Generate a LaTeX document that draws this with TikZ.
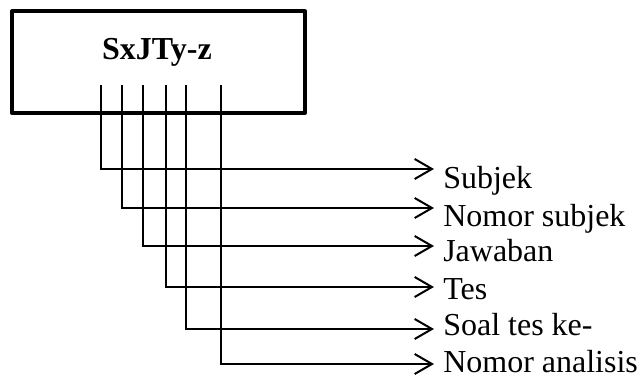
\documentclass[tikz,border=0pt]{standalone}
\usepackage{fontspec}
\setmainfont{Liberation Serif}
\usetikzlibrary{arrows.meta}
\begin{document}
\begin{tikzpicture}[x=0.75pt,y=-0.75pt,
  frame/.style={draw,line width=3pt,line join=round},
  wire/.style={line width=1.5pt,line join=miter},
  arr/.style={wire,-{Straight Barb[length=13pt,width=15pt,line width=1.5pt]}},
  lbl/.style={anchor=base west,inner sep=0pt,font=\fontsize{24}{28}\selectfont},
  ttl/.style={anchor=base,inner sep=0pt,font=\fontsize{24}{28}\selectfont\bfseries}]
\useasboundingbox (0,0) rectangle (640,378);
\draw[frame] (12,11.5) rectangle (305,113);
\node[ttl] (title) at (157,60) {SxJTy-z};
% top ends of the wires
\coordinate (t1) at (100.5,85);
\coordinate (t2) at (122,85);
\coordinate (t3) at (143,85);
\coordinate (t4) at (166,85);
\coordinate (t5) at (186,85);
\coordinate (t6) at (221,85);
% arrow tips
\coordinate (e1) at (434,169);
\coordinate (e2) at (434,208);
\coordinate (e3) at (434,246);
\coordinate (e4) at (434,287);
\coordinate (e5) at (434,329);
\coordinate (e6) at (434,364);
\draw[arr] (t1) |- (e1);
\draw[arr] (t2) |- (e2);
\draw[arr] (t3) |- (e3);
\draw[arr] (t4) |- (e4);
\draw[arr] (t5) |- (e5);
\draw[arr] (t6) |- (e6);
\node[lbl] (l1) at (443,189) {Subjek};
\node[lbl] (l2) at (443,226) {Nomor subjek};
\node[lbl] (l3) at (443,262) {Jawaban};
\node[lbl] (l4) at (443,299) {Tes};
\node[lbl] (l5) at (443,335) {Soal tes ke-};
\node[lbl] (l6) at (443,372) {Nomor analisis};
\end{tikzpicture}
\end{document}
